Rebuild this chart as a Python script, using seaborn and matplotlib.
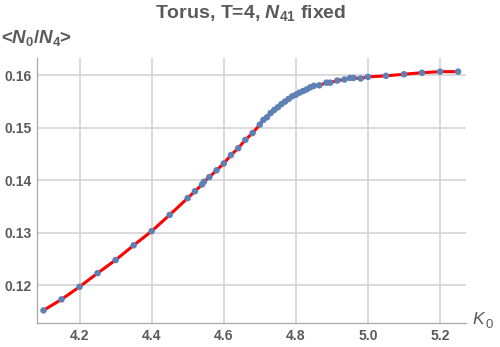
import numpy as np
import pandas as pd
import matplotlib
matplotlib.use("Agg")
import matplotlib.pyplot as plt
import seaborn as sns
from matplotlib.ticker import MultipleLocator, FormatStrFormatter

K0 = [4.10, 4.15, 4.20, 4.25, 4.30, 4.35, 4.40, 4.45, 4.50, 4.52, 4.54, 4.545,
      4.56, 4.58, 4.60, 4.62, 4.64, 4.66, 4.68, 4.70, 4.71, 4.72, 4.73, 4.74,
      4.75, 4.76, 4.77, 4.78, 4.79, 4.80, 4.81, 4.82, 4.83, 4.84, 4.85, 4.865,
      4.885, 4.895, 4.915, 4.935, 4.95, 4.96, 4.98, 5.00, 5.05, 5.10, 5.15,
      5.20, 5.25]
ratio = [0.1152, 0.1173, 0.1197, 0.1223, 0.1248, 0.1276, 0.1303, 0.1334, 0.1366,
         0.1379, 0.1392, 0.1397, 0.1406, 0.1419, 0.1432, 0.1448, 0.1461, 0.1477,
         0.1490, 0.1506, 0.1515, 0.1520, 0.1528, 0.1534, 0.1539, 0.1545, 0.1550,
         0.1555, 0.1560, 0.1563, 0.1567, 0.1570, 0.1573, 0.1577, 0.1580, 0.1581,
         0.1586, 0.1586, 0.1590, 0.1592, 0.1595, 0.1595, 0.1594, 0.1597, 0.1599,
         0.1602, 0.1605, 0.1607, 0.1607]
x_ticks = [4.2, 4.4, 4.6, 4.8, 5.0, 5.2]
y_ticks = [0.12, 0.13, 0.14, 0.15, 0.16]

df = pd.DataFrame({"K0": K0, "ratio": ratio})

sns.set_style("white")
plt.rcParams["font.family"] = ["Liberation Sans", "DejaVu Sans"]
plt.rcParams["mathtext.fontset"] = "custom"
plt.rcParams["mathtext.it"] = "Liberation Sans:italic:bold"
plt.rcParams["mathtext.rm"] = "Liberation Sans:bold"
plt.rcParams["mathtext.bf"] = "Liberation Sans:bold"

txt = "#5a5a5a"
axc = "#a8a8a8"
gridc = "#d4d4d4"

fig = plt.figure(figsize=(5.0, 3.47), dpi=100)
ax = fig.add_axes([37/500, 1 - 323/347, (466 - 37)/500, (323 - 58)/347])

sns.lineplot(data=df, x="K0", y="ratio", ax=ax, color="#ff0000", lw=2.2,
             zorder=3, sort=True)
sns.scatterplot(data=df, x="K0", y="ratio", ax=ax, color="#5e81b5", s=22,
                edgecolor="none", zorder=4)

ax.set_xlim(4.082, 5.272)
ax.set_ylim(0.1128, 0.1633)
ax.set_xticks(x_ticks)
ax.set_yticks(y_ticks)
ax.xaxis.set_major_formatter(FormatStrFormatter("%.1f"))
ax.yaxis.set_major_formatter(FormatStrFormatter("%.2f"))
ax.xaxis.set_minor_locator(MultipleLocator(0.05))
ax.yaxis.set_minor_locator(MultipleLocator(0.002))
ax.grid(True, which="major", color=gridc, lw=1.2, zorder=0)
ax.set_axisbelow(True)

for s in ["top", "right"]:
    ax.spines[s].set_visible(False)
for s in ["left", "bottom"]:
    ax.spines[s].set_color(axc)
    ax.spines[s].set_linewidth(0.9)

ax.tick_params(axis="both", which="major", direction="in", length=5,
               width=0.9, color=axc, labelsize=10, labelcolor=txt, pad=4)
ax.tick_params(axis="both", which="minor", direction="in", length=3,
               width=0.7, color=axc)
for lab in ax.get_xticklabels() + ax.get_yticklabels():
    lab.set_fontweight("bold")

ax.set_xlabel("")
ax.set_ylabel("")
fig.text(0.002, 1 - 38/347, r"<$N_0/N_4$>", fontsize=13.5, color=txt,
         fontweight="bold", ha="left", va="center")
fig.text(472/500, 1 - 320/347, "K", fontsize=12.5, color=txt, style="italic",
         ha="left", va="center")
fig.text(486/500, 1 - 325/347, "0", fontsize=9.5, color=txt,
         ha="left", va="center")
fig.text(251/500, 1 - 13/347, r"Torus, T=4, $N_{41}$ fixed", fontsize=14,
         color=txt, fontweight="bold", ha="center", va="center")

fig.savefig("out.png", dpi=100)
